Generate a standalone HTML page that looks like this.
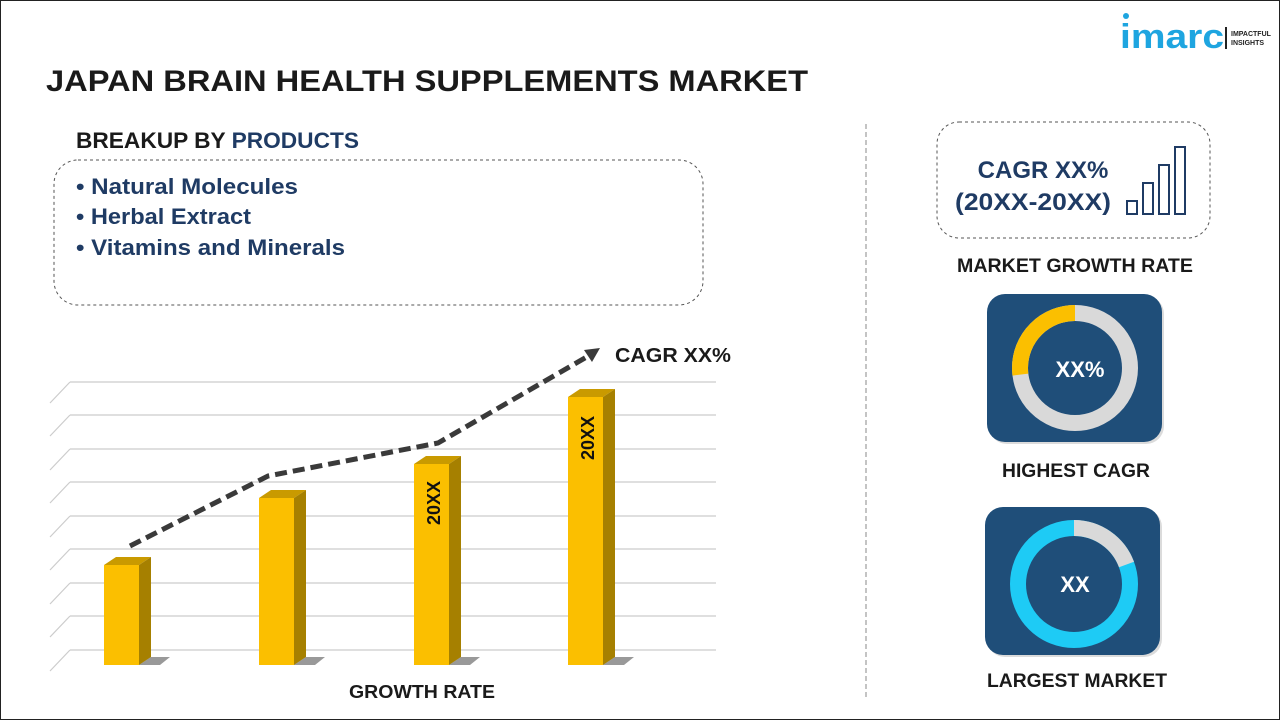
<!DOCTYPE html>
<html><head><meta charset="utf-8"><style>
html,body{margin:0;padding:0;background:#fff}
svg{display:block}
text{font-family:"Liberation Sans",sans-serif;font-weight:bold}
</style></head><body>
<svg width="1280" height="720" viewBox="0 0 1280 720" xmlns="http://www.w3.org/2000/svg">
<rect x="0.5" y="0.5" width="1279" height="719" fill="#fff" stroke="#222" stroke-width="1"/>
<!-- logo -->
<circle cx="1126" cy="16" r="3" fill="#1ea5e0"/>
<text x="1120" y="48" font-size="34" fill="#1ea5e0" textLength="104" lengthAdjust="spacingAndGlyphs">imarc</text>
<rect x="1225" y="27" width="2" height="22" fill="#222"/>
<text x="1231" y="36" font-size="7" fill="#222">IMPACTFUL</text>
<text x="1231" y="45" font-size="7" fill="#222">INSIGHTS</text>
<!-- title -->
<text x="46" y="91" font-size="30" fill="#1a1a1a" textLength="762" lengthAdjust="spacingAndGlyphs">JAPAN BRAIN HEALTH SUPPLEMENTS MARKET</text>
<text x="76" y="148" font-size="22" fill="#1a1a1a" textLength="283" lengthAdjust="spacingAndGlyphs">BREAKUP BY <tspan fill="#1f3b64">PRODUCTS</tspan></text>
<rect x="54" y="160" width="649" height="145" rx="24" fill="none" stroke="#555" stroke-dasharray="3,3"/>
<g font-size="22" fill="#1f3b64">
<text x="76" y="194" textLength="222" lengthAdjust="spacingAndGlyphs">• Natural Molecules</text>
<text x="76" y="224" textLength="175" lengthAdjust="spacingAndGlyphs">• Herbal Extract</text>
<text x="76" y="255" textLength="269" lengthAdjust="spacingAndGlyphs">• Vitamins and Minerals</text>
</g>
<line x1="866" y1="124" x2="866" y2="700" stroke="#888" stroke-dasharray="5,3"/>
<!-- grid -->
<g stroke="#ccc" stroke-width="1.2" fill="none">
<path d="M70 382H716M70 415H716M70 449H716M70 482H716M70 516H716M70 549H716M70 583H716M70 616H716M70 650H716"/>
<path d="M50 403L70 382M50 436L70 415M50 470L70 449M50 503L70 482M50 537L70 516M50 570L70 549M50 604L70 583M50 637L70 616M50 671L70 650"/>
</g>
<!-- bars -->
<g>
<g><polygon points="104,565 116,557 151,557 139,565" fill="#c99a00"/><rect x="104" y="565" width="35" height="100" fill="#fbbf00"/><polygon points="139,565 151,557 151,657 139,665" fill="#a68000"/><polygon points="139,665 151,657 170,657 160,665" fill="#555" opacity=".6"/></g>
<g><polygon points="259,498 271,490 306,490 294,498" fill="#c99a00"/><rect x="259" y="498" width="35" height="167" fill="#fbbf00"/><polygon points="294,498 306,490 306,657 294,665" fill="#a68000"/><polygon points="294,665 306,657 325,657 315,665" fill="#555" opacity=".6"/></g>
<g><polygon points="414,464 426,456 461,456 449,464" fill="#c99a00"/><rect x="414" y="464" width="35" height="201" fill="#fbbf00"/><polygon points="449,464 461,456 461,657 449,665" fill="#a68000"/><polygon points="449,665 461,657 480,657 470,665" fill="#555" opacity=".6"/></g>
<g><polygon points="568,397 580,389 615,389 603,397" fill="#c99a00"/><rect x="568" y="397" width="35" height="268" fill="#fbbf00"/><polygon points="603,397 615,389 615,657 603,665" fill="#a68000"/><polygon points="603,665 615,657 634,657 624,665" fill="#555" opacity=".6"/></g>
</g>
<text transform="translate(440,525) rotate(-90)" font-size="18" fill="#111">20XX</text>
<text transform="translate(594,460) rotate(-90)" font-size="18" fill="#111">20XX</text>
<polyline points="130,546 268,476 438,443 590,355" fill="none" stroke="#3a3a3a" stroke-width="5" stroke-dasharray="12,6"/>
<polygon points="600,348 584,350 592,362" fill="#3a3a3a"/>
<text x="615" y="362" font-size="20" fill="#1a1a1a" textLength="116" lengthAdjust="spacingAndGlyphs">CAGR XX%</text>
<text x="349" y="698" font-size="18" fill="#1a1a1a" textLength="146" lengthAdjust="spacingAndGlyphs">GROWTH RATE</text>
<!-- right -->
<rect x="937" y="122" width="273" height="116" rx="22" fill="none" stroke="#555" stroke-dasharray="3,3"/>
<text x="1043" y="178" font-size="24" fill="#1f3b64" text-anchor="middle">CAGR XX%</text>
<text x="1033" y="210" font-size="24" fill="#1f3b64" text-anchor="middle" textLength="156" lengthAdjust="spacingAndGlyphs">(20XX-20XX)</text>
<g fill="none" stroke="#1f3b64" stroke-width="2">
<rect x="1127" y="201" width="10" height="13"/><rect x="1143" y="183" width="10" height="31"/><rect x="1159" y="165" width="10" height="49"/><rect x="1175" y="147" width="10" height="67"/>
</g>
<text x="1075" y="272" font-size="19" fill="#1a1a1a" text-anchor="middle" textLength="236" lengthAdjust="spacingAndGlyphs">MARKET GROWTH RATE</text>
<rect x="989" y="296" width="175" height="148" rx="18" fill="#999" opacity=".35"/>
<rect x="987" y="294" width="175" height="148" rx="18" fill="#1f4e79"/>
<circle cx="1075" cy="368" r="55" fill="none" stroke="#d9d9d9" stroke-width="16"/>
<circle cx="1075" cy="368" r="55" fill="none" stroke="#fbbf00" stroke-width="16" stroke-dasharray="93 400" transform="rotate(-90 1075 368) scale(1,-1) translate(0,-736)"/>
<text x="1080" y="377" font-size="22" fill="#fff" text-anchor="middle">XX%</text>
<text x="1076" y="477" font-size="19" fill="#1a1a1a" text-anchor="middle" textLength="148" lengthAdjust="spacingAndGlyphs">HIGHEST CAGR</text>
<rect x="987" y="509" width="175" height="148" rx="18" fill="#999" opacity=".35"/>
<rect x="985" y="507" width="175" height="148" rx="18" fill="#1f4e79"/>
<circle cx="1074" cy="584" r="56" fill="none" stroke="#1ecbf5" stroke-width="16"/>
<circle cx="1074" cy="584" r="56" fill="none" stroke="#d9d9d9" stroke-width="16" stroke-dasharray="68 400" transform="rotate(-90 1074 584)"/>
<text x="1075" y="592" font-size="22" fill="#fff" text-anchor="middle">XX</text>
<text x="1077" y="687" font-size="19" fill="#1a1a1a" text-anchor="middle" textLength="180" lengthAdjust="spacingAndGlyphs">LARGEST MARKET</text>
</svg>
</body></html>
